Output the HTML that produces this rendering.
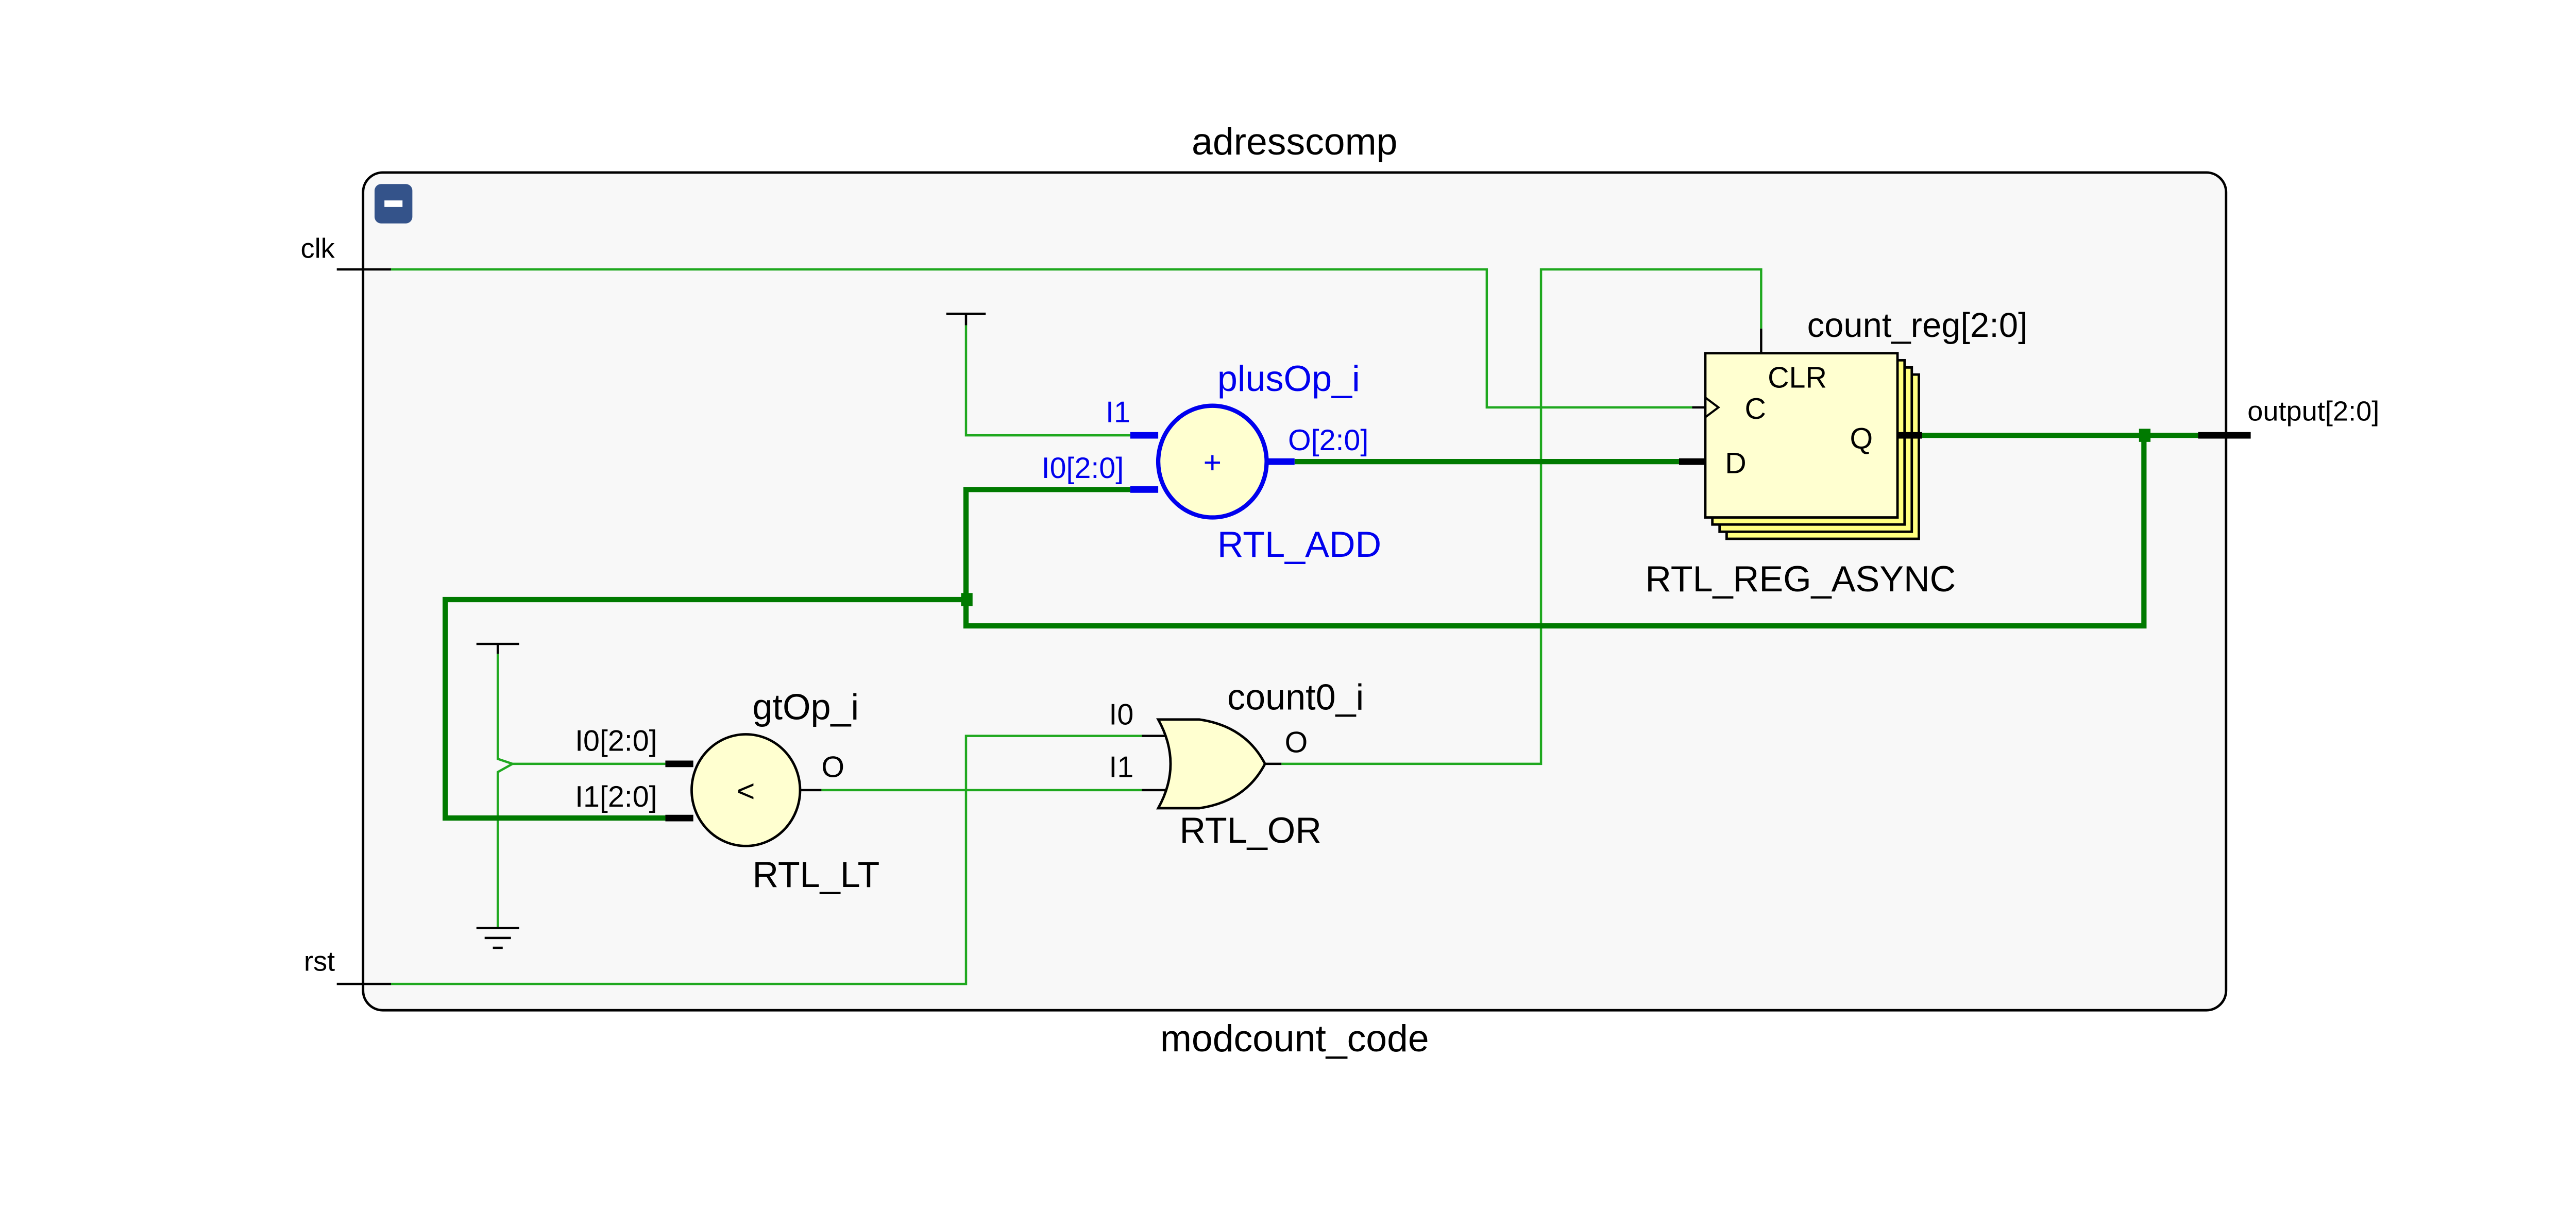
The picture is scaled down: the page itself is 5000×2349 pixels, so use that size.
<!DOCTYPE html>
<html><head><meta charset="utf-8"><style>html,body{margin:0;padding:0;background:#fff}svg{display:block}</style></head>
<body>
<svg width="5000" height="2349" viewBox="0 0 1568 736.6" xmlns="http://www.w3.org/2000/svg" font-family="Liberation Sans, sans-serif">
<rect x="0" y="0" width="1568" height="737" fill="#fff"/>
<rect x="221" y="105" width="1134" height="510" rx="12" fill="#f8f8f8" stroke="#000" stroke-width="1.5"/>
<rect x="228" y="112" width="23" height="24" rx="4" fill="#34538a"/>
<rect x="234" y="122" width="11" height="4" fill="#fff"/>
<text x="788" y="94" font-size="23" text-anchor="middle">adresscomp</text>
<text x="788" y="640" font-size="23" text-anchor="middle">modcount_code</text>
<g fill="none" stroke="#1fa81f" stroke-width="1.4">
<polyline points="238,164 905,164 905,248 1030,248"/>
<polyline points="780,465 938,465 938,164 1072,164 1072,200"/>
<polyline points="238,599 588,599 588,448 695,448"/>
<polyline points="500,481 695,481"/>
<polyline points="588,198 588,265 688,265"/>
<polyline points="303,398 303,462 312,465 405,465"/>
<polyline points="312,465 303,470 303,565"/>
</g>
<g fill="none" stroke="#007a00" stroke-width="3.2">
<polyline points="1170,265 1338,265"/>
<polyline points="1305,265 1305,381 588,381 588,298 688,298"/>
<polyline points="588,365 271,365 271,498 405,498"/>
<polyline points="788,281 1022,281"/>
</g>
<rect x="585" y="361" width="7" height="8" fill="#007a00"/>
<rect x="1302" y="261" width="7" height="8" fill="#007a00"/>
<g stroke="#000" stroke-width="1.4">
<line x1="205" y1="164" x2="238" y2="164"/>
<line x1="205" y1="599" x2="238" y2="599"/>
<line x1="1030" y1="248" x2="1038" y2="248"/>
<line x1="1072" y1="200" x2="1072" y2="215"/>
<line x1="576" y1="191" x2="600" y2="191"/>
<line x1="588" y1="191" x2="588" y2="198"/>
<line x1="290" y1="392" x2="316" y2="392"/>
<line x1="303" y1="392" x2="303" y2="398"/>
<line x1="290" y1="565" x2="316" y2="565"/>
<line x1="295" y1="571" x2="311" y2="571"/>
<line x1="300" y1="577" x2="306" y2="577"/>
<line x1="487" y1="481" x2="500" y2="481"/>
<line x1="695" y1="448" x2="712" y2="448"/>
<line x1="695" y1="481" x2="712" y2="481"/>
<line x1="770" y1="465" x2="780" y2="465"/>
</g>
<rect x="1051" y="228" width="117" height="100" fill="#ffff80" stroke="#000" stroke-width="1.5"/>
<rect x="1046.7" y="223.7" width="117" height="100" fill="#ffff80" stroke="#000" stroke-width="1.5"/>
<rect x="1042.3" y="219.3" width="117" height="100" fill="#ffff80" stroke="#000" stroke-width="1.5"/>
<rect x="1038" y="215" width="117" height="100" fill="#ffffd0" stroke="#000" stroke-width="1.5"/>
<g stroke="#000" stroke-width="4">
<line x1="1022" y1="281" x2="1038" y2="281"/>
<line x1="1155" y1="265" x2="1170" y2="265"/>
<line x1="1338" y1="265" x2="1370" y2="265"/>
<line x1="405" y1="465" x2="422" y2="465"/>
<line x1="405" y1="498" x2="422" y2="498"/>
</g>
<polyline points="1038,242 1046,248 1038,254" fill="none" stroke="#000" stroke-width="1.3"/>
<text x="1076" y="236" font-size="18">CLR</text>
<text x="1062" y="255" font-size="18">C</text>
<text x="1050" y="288" font-size="18">D</text>
<text x="1126" y="273" font-size="18">Q</text>
<text x="1100" y="205" font-size="21">count_reg[2:0]</text>
<text x="1096" y="360" font-size="22" text-anchor="middle">RTL_REG_ASYNC</text>
<text x="1368" y="256" font-size="17">output[2:0]</text>
<text x="183" y="157" font-size="17">clk</text>
<text x="185" y="591" font-size="17">rst</text>
<g stroke="#0000ee" stroke-width="4"><line x1="688" y1="265" x2="705" y2="265"/><line x1="688" y1="298" x2="705" y2="298"/><line x1="770" y1="281" x2="788" y2="281"/></g>
<ellipse cx="738" cy="281" rx="33" ry="34" fill="#ffffd0" stroke="#0000ee" stroke-width="2.6"/>
<g fill="#0000ee">
<text x="738" y="288" font-size="19" text-anchor="middle">+</text>
<text x="741" y="238" font-size="22">plusOp_i</text>
<text x="673" y="257" font-size="18">I1</text>
<text x="634" y="291" font-size="18">I0[2:0]</text>
<text x="784" y="274" font-size="18">O[2:0]</text>
<text x="741" y="339" font-size="22">RTL_ADD</text>
</g>
<ellipse cx="454" cy="481" rx="33" ry="34" fill="#ffffd0" stroke="#000" stroke-width="1.5"/>
<text x="454" y="488" font-size="19" text-anchor="middle">&lt;</text>
<text x="458" y="438" font-size="22">gtOp_i</text>
<text x="350" y="457" font-size="18">I0[2:0]</text>
<text x="350" y="491" font-size="18">I1[2:0]</text>
<text x="500" y="473" font-size="18">O</text>
<text x="458" y="540" font-size="22">RTL_LT</text>
<path d="M705,438 L730,438 Q758,442 770,465 Q758,488 730,492 L705,492 Q720,465 705,438 Z" fill="#ffffd0" stroke="#000" stroke-width="1.5"/>
<text x="675" y="441" font-size="18">I0</text>
<text x="675" y="473" font-size="18">I1</text>
<text x="747" y="432" font-size="22">count0_i</text>
<text x="782" y="458" font-size="18">O</text>
<text x="718" y="513" font-size="22">RTL_OR</text>
</svg>
</body></html>
